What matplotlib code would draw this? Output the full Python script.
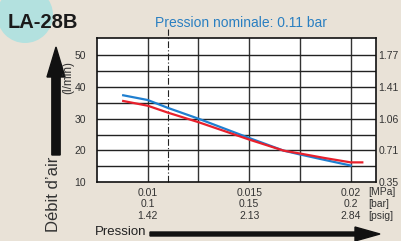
import matplotlib
matplotlib.use("Agg")
import matplotlib.pyplot as plt
from matplotlib.patches import Ellipse, FancyArrow

plt.rcParams['font.family'] = ['Liberation Sans', 'DejaVu Sans']

# pressure ticks (MPa / bar / psig)
x_ticks = [0.01, 0.015, 0.02]
bar_labels = ["0.1", "0.15", "0.2"]
psig_labels = ["1.42", "2.13", "2.84"]
nominal = 0.011

# flow ticks, l/min on the left and scfm on the right
y_ticks = [10, 20, 30, 40, 50]
scfm_labels = ["0.35", "0.71", "1.06", "1.41", "1.77"]

# curves
blue_x = [0.00879, 0.0100, 0.0110, 0.0125, 0.0150, 0.0167, 0.0175, 0.0187, 0.0200]
blue_y = [37.4, 35.9, 33.4, 30.0, 23.9, 19.9, 18.7, 17.0, 15.2]
red_x = [0.00879, 0.0100, 0.0110, 0.0125, 0.0150, 0.0167, 0.0175, 0.0187, 0.0200, 0.02057]
red_y = [35.6, 34.1, 31.9, 28.9, 23.4, 19.9, 19.0, 17.6, 16.2, 16.2]

W, H = 401, 241
fig = plt.figure(figsize=(W / 100, H / 100), dpi=100)
fig.patch.set_facecolor("#e9e2d7")

def fx(px):
    return px / W

def fy(py):
    return 1 - py / H

# badge circle + model name
fig.patches.append(Ellipse((fx(25), fy(15)), 56 / W, 56 / H, transform=fig.transFigure,
                           facecolor="#b3e1df", edgecolor="none", zorder=0))
fig.text(fx(8), fy(22), "LA-28B", fontsize=14.5, fontweight="bold", color="#1a1a1a",
         va="center", ha="left")
fig.text(fx(241), fy(23), "Pression nominale: 0.11 bar", fontsize=10, color="#2a7fc1",
         va="center", ha="center")

ax = fig.add_axes([fx(97), fy(182), (375.7 - 97) / W, (182 - 38) / H])
ax.set_facecolor("white")
ax.set_xlim(0.0075, 0.02123)
ax.set_ylim(10, 55.5)

# grid
for gx in [0.01, 0.0125, 0.015, 0.0175, 0.02]:
    ax.axvline(gx, color="#333333", lw=1.0, zorder=1)
for gy in range(15, 55, 5):
    ax.axhline(gy, color="#222222", lw=1.0, zorder=1)
ax.plot([nominal, nominal], [10, 58.2], color="#222222", lw=0.8,
        linestyle=(0, (6, 2, 1, 2)), clip_on=False, zorder=2)

ax.plot(blue_x, blue_y, color="#1f7fd0", lw=1.6, zorder=3)
ax.plot(red_x, red_y, color="#e8202c", lw=1.6, zorder=3)

for s in ax.spines.values():
    s.set_linewidth(1.2)
    s.set_color("#111111")

ax.set_yticks(y_ticks)
ax.set_yticklabels([str(v) for v in y_ticks])
ax.tick_params(axis="y", length=0, pad=8, labelsize=7.5, labelcolor="#333333")
ax.set_xticks(x_ticks)
ax.set_xticklabels([f"{m}\n{b}\n{p}" for m, b, p in zip(x_ticks, bar_labels, psig_labels)])
ax.tick_params(axis="x", length=0, pad=4, labelsize=7.5, labelcolor="#333333")
for t in ax.get_xticklabels():
    t.set_linespacing(1.2)

ax2 = ax.twinx()
ax2.set_ylim(ax.get_ylim())
ax2.set_yticks(y_ticks)
ax2.set_yticklabels(scfm_labels)
ax2.tick_params(axis="y", length=0, pad=2, labelsize=7.5, labelcolor="#333333")
for s in ax2.spines.values():
    s.set_visible(False)

fig.text(fx(368), fy(204), "[MPa]\n[bar]\n[psig]", fontsize=7.5, color="#333333",
         ha="left", va="center", linespacing=1.2)

# axis titles and arrows
fig.text(fx(68), fy(77), "(l/min)", fontsize=8.5, rotation=90, color="#333333",
         ha="center", va="center")
fig.text(fx(54), fy(194), "Débit d\u2019air", fontsize=12, rotation=90, color="#333333",
         ha="center", va="center")
fig.text(fx(95), fy(232), "Pression", fontsize=9.5, color="#222222",
         ha="left", va="center")

fig.patches.append(FancyArrow(fx(56), fy(155), 0, (155 - 47) / H, width=5 / H,
                              head_width=18 / W, head_length=30 / H, length_includes_head=True,
                              transform=fig.transFigure, color="#111111"))
fig.patches.append(FancyArrow(fx(150), fy(234), (380 - 150) / W, 0, width=4 / H,
                              head_width=14 / H, head_length=25 / W, length_includes_head=True,
                              transform=fig.transFigure, color="#111111"))

fig.savefig("out.png", dpi=100, facecolor=fig.get_facecolor())
